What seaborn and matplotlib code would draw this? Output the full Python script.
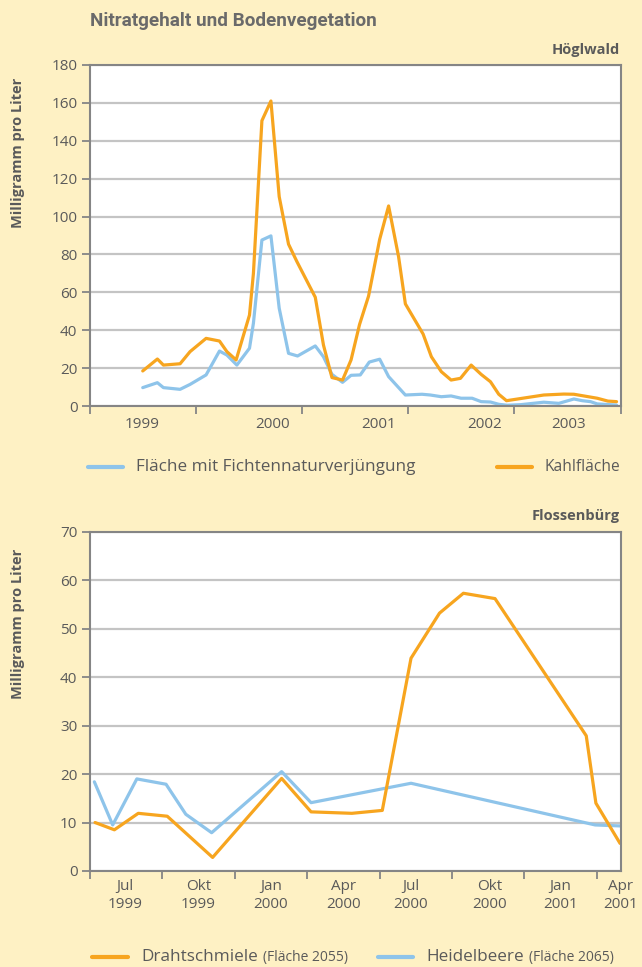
import matplotlib
matplotlib.use("Agg")
import matplotlib.pyplot as plt
import seaborn as sns
import pandas as pd
from matplotlib.lines import Line2D

# ---------------- data: Höglwald (x = years since start of 1999) ----------------
kahl_x = [0.497, 0.635, 0.692, 0.849, 0.943, 1.094, 1.22, 1.29, 1.377, 1.503, 1.54,
          1.62, 1.705, 1.783, 1.871, 1.95, 2.123, 2.2, 2.28, 2.38, 2.46, 2.54, 2.625,
          2.73, 2.814, 2.908, 2.972, 3.139, 3.217, 3.311, 3.403, 3.491, 3.592, 3.686,
          3.774, 3.852, 3.925, 4.276, 4.465, 4.56, 4.78, 4.88, 4.962]
kahl = [18.5, 24.8, 21.6, 22.3, 28.7, 35.7, 34.3, 28.7, 24.3, 48, 70,
        150.6, 161, 110.5, 85.4, 76.2, 57.4, 32.2, 15, 13.7, 24.3, 43, 58,
        88, 105.6, 78.8, 53.9, 38, 26, 18.1, 13.7, 14.6, 21.6, 16.7,
        12.8, 6.2, 2.8, 5.8, 6.3, 6.2, 4.1, 2.6, 2.3]

fichte_x = [0.497, 0.635, 0.692, 0.849, 0.943, 1.094, 1.22, 1.29, 1.384, 1.503, 1.54,
            1.62, 1.705, 1.783, 1.871, 1.956, 2.123, 2.2, 2.28, 2.38, 2.46, 2.547,
            2.632, 2.73, 2.814, 2.972, 3.129, 3.208, 3.311, 3.403, 3.497, 3.601,
            3.686, 3.774, 3.852, 3.931, 4.057, 4.276, 4.418, 4.56, 4.639, 4.717,
            4.78, 4.962]
fichte = [9.7, 12.3, 9.7, 8.8, 11.4, 16.4, 29, 26.9, 21.6, 30.5, 43.7,
          87.6, 89.8, 51.6, 27.8, 26.4, 31.7, 26, 16.7, 12.5, 16.2, 16.4,
          23.2, 24.7, 15.5, 5.8, 6.2, 5.8, 4.9, 5.3, 4.1, 4.1,
          2.3, 2.1, 0.9, 0.4, 0.7, 2.0, 1.4, 3.7, 2.8, 2.3,
          1.1, 0.5]

top_labels = ["1999", "2000", "2001", "2002", "2003"]
top_label_pos = [0.488, 1.72, 2.72, 3.72, 4.51]

# ---------------- data: Flossenbürg (x = months since axis start) ----------------
draht_x = [0.21, 1.01, 2.0, 3.2, 5.08, 7.94, 9.16, 10.85, 12.11, 13.3, 14.48,
           15.47, 16.78, 20.56, 20.96, 21.96]
draht = [10.0, 8.5, 11.9, 11.3, 2.8, 19.1, 12.2, 11.9, 12.5, 43.9, 53.2,
         57.3, 56.2, 27.9, 14.0, 5.7]

heidel_x = [0.18, 0.94, 1.94, 3.15, 3.97, 5.04, 7.94, 9.16, 13.3, 20.93, 21.96]
heidel = [18.4, 9.5, 19.0, 17.9, 11.7, 7.9, 20.5, 14.1, 18.1, 9.5, 9.3]

bot_labels = ["Jul\n1999", "Okt\n1999", "Jan\n2000", "Apr\n2000",
              "Jul\n2000", "Okt\n2000", "Jan\n2001", "Apr\n2001"]
bot_label_pos = [1.45, 4.5, 7.5, 10.5, 13.3, 16.55, 19.5, 21.99]

# ---------------- style ----------------
BG = "#FEF1C4"
ORANGE = "#F7A51F"
BLUE = "#8EC4EA"
SPINE = "#858585"
GRID = "#C4C4C4"
TXT = "#5A5A5A"

sns.set_theme(style="white")
plt.rcParams["font.family"] = ["Open Sans", "DejaVu Sans"]

fig = plt.figure(figsize=(6.42, 9.67), dpi=100, facecolor=BG)
W, H = 642.0, 967.0
ax1 = fig.add_axes([90 / W, 1 - 406 / H, 531 / W, 341 / H])
ax2 = fig.add_axes([90 / W, 1 - 871 / H, 531 / W, 339.3 / H])

df_f = pd.DataFrame({"x": fichte_x, "v": fichte})
df_k = pd.DataFrame({"x": kahl_x, "v": kahl})
df_d = pd.DataFrame({"x": draht_x, "v": draht})
df_h = pd.DataFrame({"x": heidel_x, "v": heidel})

LW = 2.3
sns.lineplot(data=df_f, x="x", y="v", ax=ax1, color=BLUE, lw=LW, estimator=None, sort=False)
sns.lineplot(data=df_k, x="x", y="v", ax=ax1, color=ORANGE, lw=LW, estimator=None, sort=False)
sns.lineplot(data=df_h, x="x", y="v", ax=ax2, color=BLUE, lw=LW, estimator=None, sort=False)
sns.lineplot(data=df_d, x="x", y="v", ax=ax2, color=ORANGE, lw=LW, estimator=None, sort=False)


def style_axes(ax, ymax, ystep, xmax, major_x, minor_pos, minor_labels, xpad):
    ax.set_facecolor("white")
    ax.set_xlim(0, xmax)
    ax.set_ylim(0, ymax)
    ax.set_yticks(range(0, ymax + 1, ystep))
    ax.set_xticks(major_x)
    ax.set_xticklabels([])
    ax.set_xticks(minor_pos, minor=True)
    ax.set_xticklabels(minor_labels, minor=True)
    ax.set_xlabel("")
    ax.set_ylabel("")
    ax.yaxis.grid(True, color=GRID, lw=1.6)
    ax.xaxis.grid(False)
    ax.set_axisbelow(True)
    for s in ax.spines.values():
        s.set_visible(True)
        s.set_color(SPINE)
        s.set_linewidth(1.5)
    ax.tick_params(axis="y", which="major", direction="out", length=6, width=1.3,
                   color=SPINE, labelsize=11, labelcolor=TXT, pad=3, left=True)
    ax.tick_params(axis="x", which="major", direction="out", length=6, width=1.3,
                   color=SPINE, bottom=True)
    ax.tick_params(axis="x", which="minor", length=0, labelsize=11, labelcolor=TXT,
                   pad=xpad, bottom=True)
    for t in ax.get_xticklabels(minor=True):
        t.set_linespacing(1.25)


style_axes(ax1, 180, 20, 5.004, [0, 1, 2, 3, 4, 5], top_label_pos, top_labels, 8)
style_axes(ax2, 70, 10, 22.0, list(range(0, 22, 3)), bot_label_pos, bot_labels, 6)

# ---------------- texts ----------------
fig.text(90 / W, 1 - 21 / H, "Nitratgehalt und Bodenvegetation", ha="left", va="center",
         fontsize=13.6, fontweight="bold", color="#6A6A6A",
         family=["Roboto", "Open Sans", "DejaVu Sans"])
fig.text(620 / W, 1 - 50 / H, "Höglwald", ha="right", va="center", fontsize=10.5,
         fontweight="bold", color=TXT)
fig.text(620 / W, 1 - 516 / H, "Flossenbürg", ha="right", va="center", fontsize=10.5,
         fontweight="bold", color=TXT)
fig.text(18 / W, 1 - 153 / H, "Milligramm pro Liter", rotation=90, ha="center",
         va="center", fontsize=10.5, fontweight="bold", color=TXT)
fig.text(18 / W, 1 - 624 / H, "Milligramm pro Liter", rotation=90, ha="center",
         va="center", fontsize=10.5, fontweight="bold", color=TXT)

# ---------------- legends (drawn manually) ----------------
def legend_entry(x0, x1, y, color, label, small=None, size=12.3):
    yf = 1 - y / H
    fig.add_artist(Line2D([x0 / W, x1 / W], [yf, yf], color=color, lw=3,
                          transform=fig.transFigure))
    t = fig.text((x1 + 13) / W, yf, label, ha="left", va="center", fontsize=size,
                 color=TXT)
    if small:
        fig.canvas.draw()
        bb = t.get_window_extent(renderer=fig.canvas.get_renderer())
        fig.text((bb.x1 + 5) / W, yf - 0.5 / H, small, ha="left", va="center",
                 fontsize=10, color=TXT)


legend_entry(88, 123, 467, BLUE, "Fläche mit Fichtennaturverjüngung")
legend_entry(497, 532, 467, ORANGE, "Kahlfläche", size=11.2)
legend_entry(92, 128, 957, ORANGE, "Drahtschmiele", "(Fläche 2055)")
legend_entry(378, 413, 957, BLUE, "Heidelbeere", "(Fläche 2065)")

fig.savefig("out.png", dpi=100, facecolor=BG)
